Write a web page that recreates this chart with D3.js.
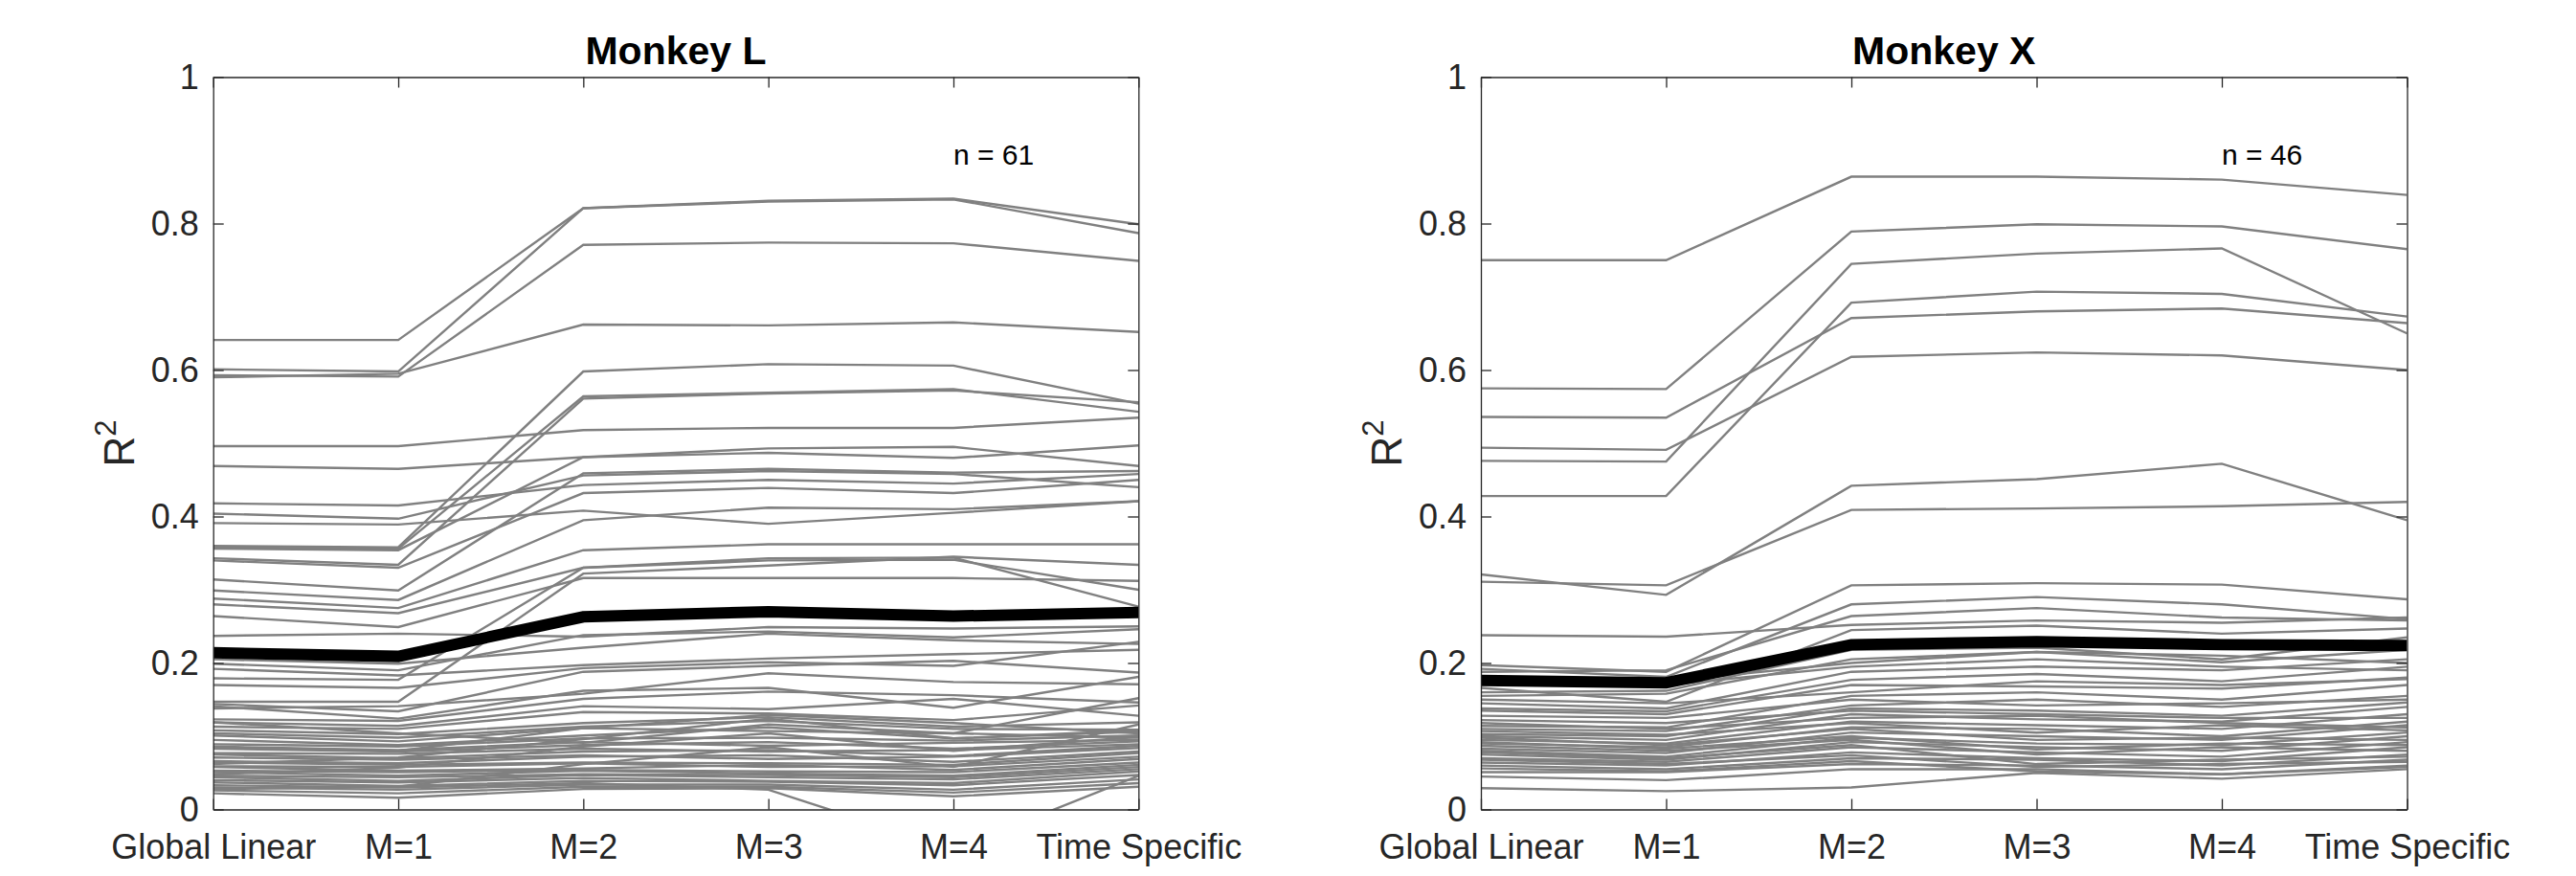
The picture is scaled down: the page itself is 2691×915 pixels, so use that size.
<!DOCTYPE html>
<html>
<head>
<meta charset="utf-8">
<script src="https://cdn.jsdelivr.net/npm/d3@7"></script>
<style>
  body { margin: 0; background: #fff; }
  text { font-family: "Liberation Sans", Arial, sans-serif; }
</style>
</head>
<body>
<div id="chart"></div>
<script>
const categories = ["Global Linear", "M=1", "M=2", "M=3", "M=4", "Time Specific"];
const yTicks = [0, 0.2, 0.4, 0.6, 0.8, 1];
const yTickLabels = ["0", "0.2", "0.4", "0.6", "0.8", "1"];
const titles = ["Monkey L", "Monkey X"];
const nLabels = ["n = 61", "n = 46"];

// one row per neuron: [Global Linear, M=1, M=2, M=3, M=4, Time Specific]
const linesL = [
  [0.641,0.641,0.821,0.831,0.834,0.799],
  [0.601,0.598,0.821,0.830,0.833,0.787],
  [0.593,0.591,0.771,0.774,0.773,0.749],
  [0.590,0.595,0.662,0.661,0.665,0.652],
  [0.496,0.496,0.518,0.521,0.521,0.535],
  [0.469,0.465,0.481,0.487,0.480,0.497],
  [0.418,0.415,0.443,0.450,0.445,0.458],
  [0.404,0.397,0.456,0.462,0.458,0.440],
  [0.391,0.389,0.408,0.390,0.405,0.421],
  [0.360,0.358,0.598,0.608,0.606,0.554],
  [0.358,0.356,0.564,0.569,0.574,0.543],
  [0.356,0.354,0.481,0.493,0.495,0.469],
  [0.343,0.334,0.561,0.568,0.572,0.556],
  [0.340,0.330,0.432,0.439,0.432,0.450],
  [0.314,0.299,0.459,0.465,0.460,0.462],
  [0.299,0.286,0.395,0.412,0.410,0.421],
  [0.288,0.275,0.354,0.362,0.362,0.362],
  [0.280,0.268,0.330,0.343,0.344,0.277],
  [0.264,0.249,0.316,0.316,0.316,0.312],
  [0.237,0.240,0.236,0.249,0.247,0.250],
  [0.179,0.177,0.330,0.340,0.341,0.300],
  [0.147,0.147,0.322,0.333,0.345,0.334],
  [0.205,0.199,0.221,0.240,0.231,0.226],
  [0.199,0.190,0.238,0.243,0.235,0.246],
  [0.192,0.183,0.197,0.206,0.212,0.218],
  [0.170,0.166,0.193,0.201,0.196,0.229],
  [0.144,0.134,0.188,0.196,0.203,0.187],
  [0.141,0.124,0.162,0.166,0.139,0.181],
  [0.138,0.141,0.158,0.186,0.174,0.171],
  [0.123,0.121,0.151,0.161,0.156,0.146],
  [0.119,0.114,0.141,0.137,0.151,0.128],
  [0.113,0.110,0.133,0.131,0.122,0.142],
  [0.108,0.103,0.118,0.126,0.113,0.119],
  [0.104,0.098,0.113,0.121,0.110,0.109],
  [0.101,0.093,0.111,0.107,0.104,0.098],
  [0.095,0.088,0.101,0.112,0.097,0.106],
  [0.089,0.086,0.097,0.098,0.094,0.101],
  [0.086,0.081,0.092,0.087,0.091,0.095],
  [0.083,0.079,0.088,0.092,0.083,0.093],
  [0.077,0.076,0.083,0.079,0.081,0.089],
  [0.075,0.070,0.079,0.081,0.073,0.087],
  [0.071,0.068,0.074,0.069,0.072,0.084],
  [0.066,0.063,0.072,0.074,0.065,0.079],
  [0.064,0.061,0.064,0.063,0.061,0.077],
  [0.059,0.058,0.063,0.058,0.059,0.072],
  [0.058,0.053,0.056,0.061,0.054,0.069],
  [0.053,0.051,0.054,0.052,0.051,0.064],
  [0.051,0.046,0.053,0.049,0.046,0.061],
  [0.046,0.044,0.048,0.047,0.044,0.058],
  [0.044,0.039,0.047,0.044,0.041,0.055],
  [0.040,0.037,0.043,0.039,0.036,0.052],
  [0.037,0.032,0.039,0.038,0.033,0.047],
  [0.033,0.030,0.036,0.027,-0.055,0.046],
  [0.030,0.027,0.034,0.034,0.027,0.041],
  [0.026,0.022,0.031,0.031,0.023,0.036],
  [0.022,0.016,0.028,0.029,0.018,0.031],
  [0.119,0.104,0.091,0.116,0.104,0.152],
  [0.085,0.080,0.111,0.129,0.118,0.104],
  [0.062,0.071,0.096,0.124,0.097,0.108],
  [0.048,0.057,0.086,0.104,0.080,0.099],
  [0.028,0.031,0.062,0.085,0.058,0.116]
];
const meanL = [0.214, 0.209, 0.263, 0.270, 0.264, 0.269];

const linesX = [
  [0.750,0.750,0.864,0.864,0.860,0.839],
  [0.575,0.574,0.789,0.799,0.796,0.765],
  [0.536,0.535,0.671,0.680,0.684,0.664],
  [0.494,0.491,0.618,0.624,0.620,0.600],
  [0.476,0.475,0.745,0.759,0.766,0.650],
  [0.428,0.428,0.692,0.707,0.704,0.673],
  [0.321,0.293,0.442,0.451,0.472,0.395],
  [0.311,0.306,0.409,0.411,0.414,0.420],
  [0.238,0.236,0.252,0.258,0.255,0.262],
  [0.197,0.188,0.306,0.309,0.307,0.287],
  [0.192,0.181,0.280,0.290,0.280,0.260],
  [0.188,0.190,0.264,0.275,0.262,0.258],
  [0.166,0.147,0.245,0.251,0.240,0.247],
  [0.160,0.162,0.218,0.221,0.205,0.235],
  [0.155,0.158,0.205,0.215,0.201,0.218],
  [0.145,0.138,0.188,0.195,0.190,0.205],
  [0.138,0.134,0.177,0.185,0.175,0.195],
  [0.135,0.130,0.170,0.168,0.165,0.180],
  [0.114,0.112,0.155,0.160,0.150,0.170],
  [0.110,0.107,0.142,0.150,0.140,0.155],
  [0.103,0.100,0.138,0.135,0.128,0.146],
  [0.100,0.095,0.130,0.123,0.120,0.140],
  [0.095,0.090,0.120,0.115,0.110,0.130],
  [0.090,0.085,0.112,0.110,0.100,0.120],
  [0.083,0.077,0.105,0.100,0.095,0.115],
  [0.080,0.072,0.098,0.090,0.088,0.105],
  [0.075,0.068,0.092,0.085,0.080,0.100],
  [0.070,0.065,0.085,0.078,0.072,0.092],
  [0.064,0.060,0.078,0.070,0.066,0.085],
  [0.060,0.055,0.070,0.068,0.060,0.075],
  [0.051,0.051,0.062,0.060,0.055,0.068],
  [0.045,0.040,0.055,0.055,0.048,0.060],
  [0.029,0.025,0.030,0.050,0.042,0.055],
  [0.180,0.175,0.200,0.215,0.210,0.200],
  [0.172,0.170,0.195,0.205,0.195,0.190],
  [0.150,0.145,0.160,0.175,0.170,0.178],
  [0.128,0.125,0.150,0.142,0.145,0.150],
  [0.122,0.118,0.135,0.130,0.125,0.125],
  [0.118,0.110,0.125,0.128,0.118,0.112],
  [0.107,0.102,0.118,0.105,0.115,0.108],
  [0.098,0.088,0.110,0.095,0.098,0.095],
  [0.092,0.083,0.100,0.082,0.090,0.088],
  [0.087,0.080,0.095,0.075,0.085,0.080],
  [0.078,0.070,0.088,0.062,0.068,0.072],
  [0.068,0.062,0.074,0.058,0.062,0.065],
  [0.056,0.052,0.066,0.052,0.048,0.058]
];
const meanX = [0.176, 0.173, 0.225, 0.229, 0.225, 0.224];

const W = 2691, H = 915;
const axisColor = "#262626";

const svg = d3.select("#chart").append("svg")
  .attr("width", W)
  .attr("height", H)
  .style("background", "#fff");

const panels = [
  {left: 222.7, right: 1189.3, lines: linesL, mean: meanL},
  {left: 1547, right: 2514.5, lines: linesX, mean: meanX}
];
const axTop = 80.5, axBottom = 845.5;

panels.forEach((p, i) => {
  const x = d3.scalePoint().domain(categories).range([p.left, p.right]);
  const y = d3.scaleLinear().domain([0, 1]).range([axBottom, axTop]);

  const g = svg.append("g");

  g.append("clipPath").attr("id", "clip" + i)
    .append("rect")
    .attr("x", p.left).attr("y", axTop)
    .attr("width", p.right - p.left).attr("height", axBottom - axTop);

  const lineFn = d3.line()
    .x((d, k) => x(categories[k]))
    .y(d => y(d));

  const plot = g.append("g").attr("clip-path", `url(#clip${i})`);

  plot.selectAll(".cell")
    .data(p.lines)
    .enter().append("path")
    .attr("class", "cell")
    .attr("d", lineFn)
    .attr("fill", "none")
    .attr("stroke", "#808080")
    .attr("stroke-width", 2.4);

  plot.append("path")
    .datum(p.mean)
    .attr("d", lineFn)
    .attr("fill", "none")
    .attr("stroke", "#000")
    .attr("stroke-width", 12)
    .attr("stroke-linejoin", "miter");

  // axes, ticks pointing inward on all four sides
  const ax = g.append("g").attr("class", "axes");

  ax.append("g")
    .attr("transform", `translate(${p.left},0)`)
    .call(d3.axisLeft(y).tickValues(yTicks).tickFormat((d, k) => yTickLabels[k])
      .tickSizeInner(-11).tickSizeOuter(0).tickPadding(15));

  ax.append("g")
    .attr("transform", `translate(${p.right},0)`)
    .call(d3.axisRight(y).tickValues(yTicks).tickFormat("")
      .tickSizeInner(-11).tickSizeOuter(0));

  ax.append("g")
    .attr("transform", `translate(0,${axBottom})`)
    .call(d3.axisBottom(x).tickSizeInner(-11).tickSizeOuter(0).tickPadding(26));

  ax.append("g")
    .attr("transform", `translate(0,${axTop})`)
    .call(d3.axisTop(x).tickFormat("").tickSizeInner(-11).tickSizeOuter(0));

  ax.selectAll(".domain, .tick line")
    .attr("stroke", axisColor)
    .attr("stroke-width", 1.3);
  ax.selectAll(".tick text")
    .attr("fill", axisColor)
    .style("font-size", "36px")
    .style("font-family", "'Liberation Sans', Arial, sans-serif");

  // title
  g.append("text")
    .attr("x", (p.left + p.right) / 2)
    .attr("y", 67)
    .attr("text-anchor", "middle")
    .style("font-size", "41px")
    .style("font-weight", "bold")
    .attr("fill", "#000")
    .text(titles[i]);

  // y label R^2
  const yl = g.append("text")
    .attr("transform", `translate(${p.left - 83},${(axTop + axBottom) / 2}) rotate(-90)`)
    .attr("text-anchor", "middle")
    .attr("fill", axisColor)
    .style("font-size", "44px");
  yl.append("tspan").text("R");
  yl.append("tspan").attr("dy", -19).style("font-size", "31px").text("2");

  // n label
  g.append("text")
    .attr("x", x("M=4"))
    .attr("y", y(0.881))
    .attr("fill", "#000")
    .style("font-size", "30px")
    .text(nLabels[i]);
});
</script>
</body>
</html>
